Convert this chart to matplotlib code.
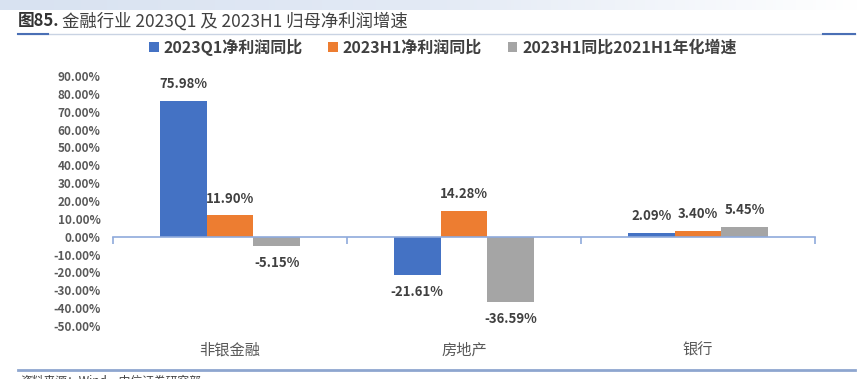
import numpy as np
import matplotlib
matplotlib.use("Agg")
import matplotlib.pyplot as plt
from matplotlib.lines import Line2D
from matplotlib.colors import LinearSegmentedColormap
from matplotlib.ticker import FuncFormatter, FixedLocator
import matplotlib.transforms as mtransforms

plt.rcParams['font.family'] = ['Noto Sans CJK SC', 'DejaVu Sans']

# data
categories = ['非银金融', '房地产', '银行']
series_names = ['2023Q1净利润同比', '2023H1净利润同比', '2023H1同比2021H1年化增速']
q1_yoy = [75.98, -21.61, 2.09]
h1_yoy = [11.90, 14.28, 3.40]
h1_vs_2021 = [-5.15, -36.59, 5.45]
colors = ['#4472C4', '#ED7D31', '#A5A5A5']

W, H = 860, 379
fig = plt.figure(figsize=(W / 100, H / 100), dpi=100)

# light blue band at the very top
band = fig.add_axes([0, 1 - 10 / H, 1, 10 / H])
cmap = LinearSegmentedColormap.from_list('band', ['#D8E2F1', '#E3EAF5', '#FFFFFF'])
band.imshow(np.linspace(0, 1, 256)[None, :], aspect='auto', cmap=cmap,
            extent=[0, 1, 0, 1])
band.axis('off')

# title
fig.text(18 / W, 1 - 21 / H, '图85.', fontsize=12, fontweight='bold',
         color='#333333', va='center', ha='left')
fig.text(62 / W, 1 - 21 / H, '金融行业 2023Q1 及 2023H1 归母净利润增速', fontsize=12.5,
         fontweight='light', color='#404040', va='center', ha='left')

# separator lines
yl = 1 - 34 / H
fig.add_artist(Line2D([18 / W, 855 / W], [yl, yl], color='#C9D3E3', lw=1))
fig.add_artist(Line2D([18 / W, 48 / W], [yl, yl], color='#4A6FB5', lw=1.5))
fig.add_artist(Line2D([823 / W, 855 / W], [yl, yl], color='#4A6FB5', lw=1.5))
yb = 1 - 370 / H
fig.add_artist(Line2D([18 / W, 855 / W], [yb, yb], color='#8EA6CF', lw=2))
fig.text(20 / W, 1 - 381 / H, '资料来源：Wind，中信证券研究部', fontsize=8.5,
         color='#404040', va='center', ha='left')

# main chart
ax = fig.add_axes([113 / W, (H - 326) / H, 702 / W, 250 / H])
x = np.arange(len(categories))
width = 0.2
all_series = [q1_yoy, h1_yoy, h1_vs_2021]
bars = []
for i, (vals, name) in enumerate(zip(all_series, series_names)):
    b = ax.bar(x + (i - 1) * width, vals, width, color=colors[i], label=name)
    bars.append(b)
    ax.bar_label(b, labels=[f'{v:.2f}%' for v in vals], padding=7,
                 fontsize=9.5, fontweight='bold', color='#404040')

ax.set_xlim(-0.5, len(categories) - 0.5)
ax.set_ylim(-50, 90)
ax.set_yticks(np.arange(-50, 91, 10))
ax.yaxis.set_major_formatter(FuncFormatter(lambda v, p: f'{v:.2f}%'))
ax.tick_params(axis='y', length=0, pad=9, labelsize=8.5, labelcolor='#595959')
for lab in ax.get_yticklabels():
    lab.set_fontweight('bold')

for s in ['top', 'right', 'left']:
    ax.spines[s].set_visible(False)
ax.spines['bottom'].set_position(('data', 0))
ax.spines['bottom'].set_color('#8FAADC')
ax.spines['bottom'].set_linewidth(1.2)
ax.set_xticks([])
ax.xaxis.set_minor_locator(FixedLocator(np.arange(-0.5, len(categories), 1)))
ax.tick_params(axis='x', which='minor', direction='out', length=5,
               color='#8FAADC', width=1.2)

trans = mtransforms.blended_transform_factory(ax.transData, ax.transAxes)
for xi, c in zip(x, categories):
    ax.text(xi, -0.096, c, transform=trans, ha='center', va='center',
            fontsize=11, color='#595959', fontweight='medium')

fig.legend(handles=bars, loc='center', bbox_to_anchor=(0.515, 1 - 47 / H),
           ncol=3, frameon=False, handlelength=0.6, handleheight=0.6,
           handletextpad=0.3, columnspacing=1.6,
           prop={'size': 11.5, 'weight': 'bold'}, labelcolor='#404040')

fig.savefig('out.png', dpi=100)
